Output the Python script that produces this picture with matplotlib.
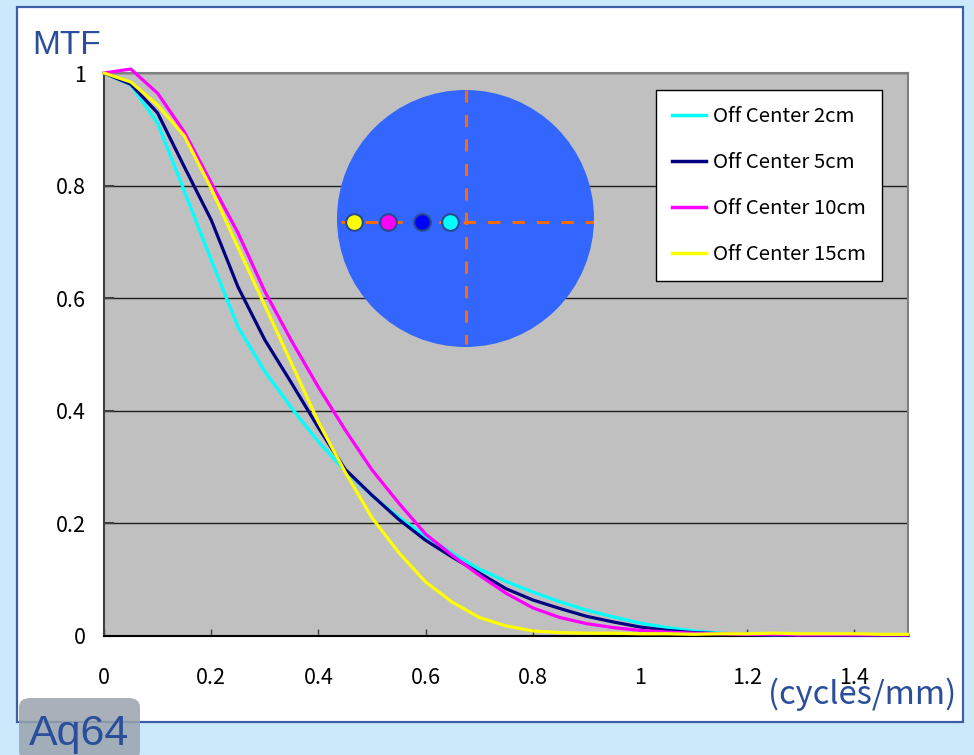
import numpy as np
import matplotlib
matplotlib.use('Agg')
import matplotlib.pyplot as plt
import matplotlib.patches as patches

# spatial frequency (cycles/mm) and MTF
freq = [0, 0.05, 0.1, 0.15, 0.2, 0.25, 0.3, 0.35, 0.4, 0.45, 0.5, 0.55, 0.6, 0.65, 0.7,
        0.75, 0.8, 0.85, 0.9, 0.95, 1.0, 1.05, 1.1, 1.15, 1.2, 1.25, 1.3, 1.35, 1.4, 1.45, 1.5]

mtf_2cm = [1.0, 0.979, 0.911, 0.79, 0.668, 0.549, 0.47, 0.405, 0.345, 0.293, 0.249, 0.211,
           0.177, 0.147, 0.119, 0.097, 0.078, 0.061, 0.046, 0.034, 0.023, 0.015, 0.009, 0.005,
           0.003, 0.002, 0.002, 0.001, 0.001, 0.001, 0.001]
mtf_5cm = [1.0, 0.98, 0.929, 0.833, 0.739, 0.62, 0.526, 0.449, 0.37, 0.296, 0.25, 0.207,
           0.17, 0.14, 0.112, 0.084, 0.064, 0.049, 0.035, 0.025, 0.016, 0.01, 0.006, 0.004,
           0.002, 0.002, 0.001, 0.001, 0.001, 0.001, 0.001]
mtf_10cm = [1.0, 1.007, 0.964, 0.895, 0.805, 0.716, 0.612, 0.524, 0.442, 0.366, 0.295, 0.236,
            0.181, 0.143, 0.108, 0.076, 0.05, 0.033, 0.022, 0.015, 0.01, 0.007, 0.005, 0.004,
            0.003, 0.003, 0.002, 0.002, 0.002, 0.002, 0.002]
mtf_15cm = [1.0, 0.984, 0.943, 0.888, 0.795, 0.69, 0.587, 0.484, 0.38, 0.291, 0.21, 0.148,
            0.096, 0.06, 0.033, 0.018, 0.009, 0.006, 0.005, 0.005, 0.004, 0.004, 0.003, 0.004,
            0.004, 0.005, 0.004, 0.004, 0.004, 0.003, 0.003]

labels = ['Off Center 2cm', 'Off Center 5cm', 'Off Center 10cm', 'Off Center 15cm']
colors = ['#00ffff', '#000080', '#ff00ff', '#ffff00']
series = [mtf_2cm, mtf_5cm, mtf_10cm, mtf_15cm]

xticks = [0, 0.2, 0.4, 0.6, 0.8, 1.0, 1.2, 1.4]
xticklabels = ['0', '0.2', '0.4', '0.6', '0.8', '1', '1.2', '1.4']
yticks = [0, 0.2, 0.4, 0.6, 0.8, 1.0]
yticklabels = ['0', '0.2', '0.4', '0.6', '0.8', '1']

# phantom sketch: dot positions along the horizontal diameter (15, 10, 5, 2 cm)
dot_x = [-0.868, -0.603, -0.339, -0.12]
dot_colors = ['#ffff00', '#ff00ff', '#0000ff', '#00ffff']

plt.rcParams['font.family'] = ['Noto Sans CJK JP', 'DejaVu Sans']

W, H = 974, 755
fig = plt.figure(figsize=(W / 100, H / 100), dpi=100)
fig.patch.set_facecolor('#cce9fb')

def fx(px):
    return px / W

def fy(py):
    return 1 - py / H

# white panel
panel = patches.Rectangle((fx(17), fy(722)), fx(963 - 17), (722 - 7) / H,
                          transform=fig.transFigure, facecolor='white',
                          edgecolor='#3d5fa8', linewidth=1.6, zorder=-2)
fig.patches.append(panel)

ax = fig.add_axes([fx(104), fy(636), fx(908 - 104), (636 - 73) / H])
ax.set_facecolor('#c0c0c0')

for vals, col, lab in zip(series, colors, labels):
    ax.plot(freq, vals, color=col, lw=2.3, label=lab, clip_on=False, zorder=3)

ax.set_xlim(0, 1.5)
ax.set_ylim(0, 1)
ax.set_xticks(xticks)
ax.set_xticklabels(xticklabels)
ax.set_yticks(yticks)
ax.set_yticklabels(yticklabels)
ax.yaxis.grid(True, color='#202020', lw=1.0)
ax.set_axisbelow(True)
ax.tick_params(axis='x', direction='in', length=5, width=1, color='#404040',
               pad=22, labelsize=15.5)
ax.tick_params(axis='y', direction='in', length=7, width=1.5, color='#404040',
               pad=13, labelsize=15.5)
ax.spines['left'].set_color('#404040')
ax.spines['left'].set_linewidth(1.5)
ax.spines['bottom'].set_color('black')
ax.spines['bottom'].set_linewidth(1.5)
ax.spines['top'].set_color('#808080')
ax.spines['top'].set_linewidth(1.5)
ax.spines['right'].set_color('#808080')
ax.spines['right'].set_linewidth(1.5)

leg = ax.legend(loc='upper left', bbox_to_anchor=(fx(656), fy(90)),
                bbox_transform=fig.transFigure, fontsize=14.7, frameon=True,
                fancybox=False, framealpha=1, edgecolor='black',
                handlelength=1.67, handletextpad=0.3, labelspacing=1.22,
                borderpad=0.8, borderaxespad=0)
leg.get_frame().set_linewidth(1.0)
for line in leg.get_lines():
    line.set_linewidth(2.5)

# phantom sketch
iax = fig.add_axes([fx(337), fy(347), fx(594 - 337), (347 - 90) / H])
iax.set_xlim(-1, 1)
iax.set_ylim(-1, 1)
iax.axis('off')
iax.add_patch(patches.Circle((0, 0), 1.0, facecolor='#3366ff', edgecolor='none'))
iax.plot([-0.97, 1.0], [-0.027, -0.027], color='#ff6a00', lw=2.2, dashes=(4, 4))
iax.plot([0, 0], [1.0, -0.98], color='#ff6a00', lw=2.2, dashes=(4, 4))
for dx, dc in zip(dot_x, dot_colors):
    iax.plot(dx, -0.027, 'o', ms=12, mfc=dc, mec='#2a4a90', mew=1.5)

fig.text(fx(32), fy(45), 'MTF', fontsize=24, color='#2a4e9a', va='center',
         ha='left', family=['Liberation Sans', 'DejaVu Sans'])
fig.text(fx(768), fy(694), '(cycles/mm)', fontsize=23.5, color='#2a4e9a',
         va='center', ha='left')

# label badge bottom-left
badge = patches.FancyBboxPatch((fx(19), fy(760)), fx(121), (760 - 698) / H,
                               boxstyle='round,pad=0,rounding_size=0.012',
                               transform=fig.transFigure, facecolor='#9aa3ad',
                               edgecolor='none', alpha=0.85, zorder=-1)
fig.patches.append(badge)
fig.text(fx(29), fy(734), 'Aq64', fontsize=31, color='#2a4e9a', va='center',
         ha='left', family=['Liberation Sans', 'DejaVu Sans'])

fig.savefig('out.png', dpi=100, facecolor=fig.get_facecolor())
